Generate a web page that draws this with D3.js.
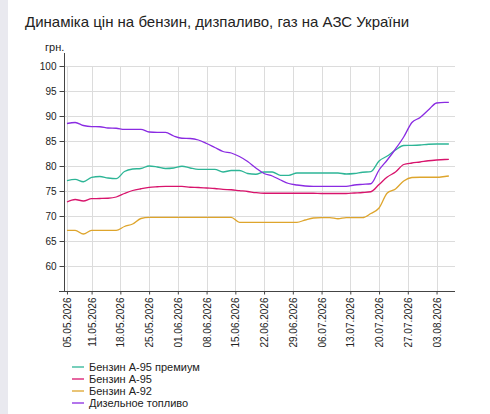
<!DOCTYPE html>
<html>
<head>
<meta charset="utf-8">
<script src="https://cdn.jsdelivr.net/npm/d3@7"></script>
<style>
  body { margin: 0; background: #fff; font-family: "Liberation Sans", Arial, sans-serif; }
  #app { position: relative; width: 490px; height: 414px; }
  .strip { position: absolute; left: 0; top: 0; width: 8px; height: 414px; background: #e9e9ef; }
</style>
</head>
<body>
<div id="app"><div class="strip"></div></div>
<script>
// дні від 05.05.2026 (через два дні, останній — 06.08)
const days = [0,2,4,6,8,10,12,14,16,18,20,22,24,26,28,30,32,34,36,38,40,42,44,46,
  48,50,52,54,56,58,60,62,64,66,68,70,72,74,76,78,80,82,84,86,88,90,92,93];

const premium95 = [77.07,77.33,76.85,77.73,77.9,77.6,77.47,78.9,79.4,79.5,80.0,79.8,79.5,79.6,
  79.95,79.6,79.33,79.33,79.33,78.8,79.1,79.1,78.5,78.35,78.8,78.8,78.13,78.13,78.6,78.6,
  78.6,78.6,78.6,78.6,78.4,78.5,78.75,78.87,81.0,82.0,83.2,84.1,84.13,84.2,84.35,84.4,84.4,84.4];

const a95 = [72.8,73.3,73.0,73.47,73.5,73.55,73.8,74.5,75.1,75.45,75.73,75.85,75.93,75.93,
  75.93,75.75,75.7,75.6,75.5,75.33,75.25,75.07,74.9,74.67,74.55,74.55,74.55,74.55,74.55,74.55,
  74.55,74.5,74.5,74.5,74.5,74.6,74.7,74.85,76.3,77.8,78.8,80.3,80.6,80.8,81.05,81.2,81.3,81.33];

const a92 = [67.13,67.13,66.4,67.13,67.13,67.13,67.13,67.9,68.4,69.5,69.73,69.73,69.73,69.73,
  69.73,69.73,69.73,69.73,69.73,69.73,69.73,68.73,68.73,68.73,68.73,68.73,68.73,68.73,68.73,69.2,
  69.6,69.67,69.67,69.45,69.67,69.67,69.67,70.5,71.6,74.6,75.4,77.0,77.7,77.75,77.75,77.75,77.9,78.0];

const diesel = [88.5,88.7,88.1,87.87,87.85,87.6,87.55,87.33,87.33,87.33,86.8,86.73,86.73,86.0,
  85.55,85.5,85.2,84.5,83.7,82.9,82.6,81.9,80.9,79.6,78.5,78.0,77.2,76.5,76.2,76.0,
  75.93,75.93,75.93,75.93,75.93,76.2,76.33,76.45,79.2,81.2,83.4,85.8,88.7,89.7,91.2,92.6,92.73,92.73];

const seriesNames = ["Бензин А-95 премиум", "Бензин А-95", "Бензин А-92", "Дизельное топливо"];
const seriesColors = ["#2db596", "#d8146c", "#dea52c", "#8a2be2"];
const seriesValues = [premium95, a95, a92, diesel];

const tickDates = ["05.05.2026","11.05.2026","18.05.2026","25.05.2026","01.06.2026","08.06.2026",
  "15.06.2026","22.06.2026","29.06.2026","06.07.2026","13.07.2026","20.07.2026","27.07.2026","03.08.2026"];
const yTicks = [60, 65, 70, 75, 80, 85, 90, 95, 100];

const parse = d3.timeParse("%d.%m.%Y");
const start = parse("05.05.2026");
const dates = days.map(d => d3.timeDay.offset(start, d));

const width = 490, height = 414;
const svg = d3.select("#app").append("svg")
  .attr("width", width).attr("height", height)
  .style("position", "absolute").style("left", 0).style("top", 0);

const x = d3.scaleTime()
  .domain([new Date(2026, 4, 4, 6, 40), new Date(2026, 7, 7, 6)])
  .range([64, 454]);
const y = d3.scaleLinear().domain([55, 100]).range([291, 66]);

// title
svg.append("text")
  .attr("x", 25).attr("y", 27)
  .attr("font-size", 15).attr("fill", "#222")
  .text("Динаміка цін на бензин, дизпаливо, газ на АЗС України");

svg.append("text")
  .attr("x", 45).attr("y", 51)
  .attr("font-size", 11).attr("fill", "#222")
  .text("грн.");

// grid
const grid = svg.append("g");
grid.selectAll("line.h").data(yTicks).enter().append("line")
  .attr("x1", 64).attr("x2", 455)
  .attr("y1", d => y(d) + 0.5).attr("y2", d => y(d) + 0.5)
  .attr("stroke", "#dcdcdc");
grid.selectAll("line.v").data(tickDates).enter().append("line")
  .attr("x1", d => Math.round(x(parse(d))) + 0.5).attr("x2", d => Math.round(x(parse(d))) + 0.5)
  .attr("y1", y(100)).attr("y2", 291)
  .attr("stroke", "#dcdcdc");

// lines
const line = d3.line()
  .x((d, i) => x(dates[i]))
  .y(d => y(d))
  .curve(d3.curveMonotoneX);

svg.selectAll("path.series").data(seriesValues).enter().append("path")
  .attr("fill", "none")
  .attr("stroke", (d, i) => seriesColors[i])
  .attr("stroke-width", 1.3)
  .attr("d", line);

// y axis
const yAxis = svg.append("g")
  .attr("transform", "translate(64.5,0)")
  .call(d3.axisLeft(y).tickValues(yTicks).tickSize(5).tickPadding(3));
yAxis.select(".domain").remove();
svg.append("line").attr("x1", 64.5).attr("x2", 64.5).attr("y1", 53).attr("y2", 291)
  .attr("stroke", "#444");

// x axis
const xAxis = svg.append("g")
  .attr("transform", "translate(0,291.5)")
  .call(d3.axisBottom(x).tickValues(tickDates.map(parse)).tickSize(3).tickFormat(d3.timeFormat("%d.%m.%Y")));
xAxis.select(".domain").remove();
svg.append("line").attr("x1", 59).attr("x2", 455).attr("y1", 291.5).attr("y2", 291.5)
  .attr("stroke", "#444");
xAxis.selectAll("text")
  .attr("transform", "rotate(-90)")
  .attr("text-anchor", "end")
  .attr("x", -6).attr("y", 0).attr("dy", "0.35em");

svg.selectAll(".tick text").attr("font-size", 10).attr("fill", "#222")
  .attr("font-family", "'Liberation Sans', Arial, sans-serif");
svg.selectAll(".tick line").attr("stroke", "#444");

// legend
const legend = svg.append("g").selectAll("g").data(seriesNames).enter().append("g")
  .attr("transform", (d, i) => `translate(72,${367 + i * 12})`);
legend.append("line").attr("x1", 0).attr("x2", 12).attr("y1", 0).attr("y2", 0)
  .attr("stroke", (d, i) => seriesColors[i]).attr("stroke-width", 1.3);
legend.append("text").attr("x", 17).attr("dy", "0.35em")
  .attr("font-size", 11).attr("fill", "#222").text(d => d);
</script>
</body>
</html>
